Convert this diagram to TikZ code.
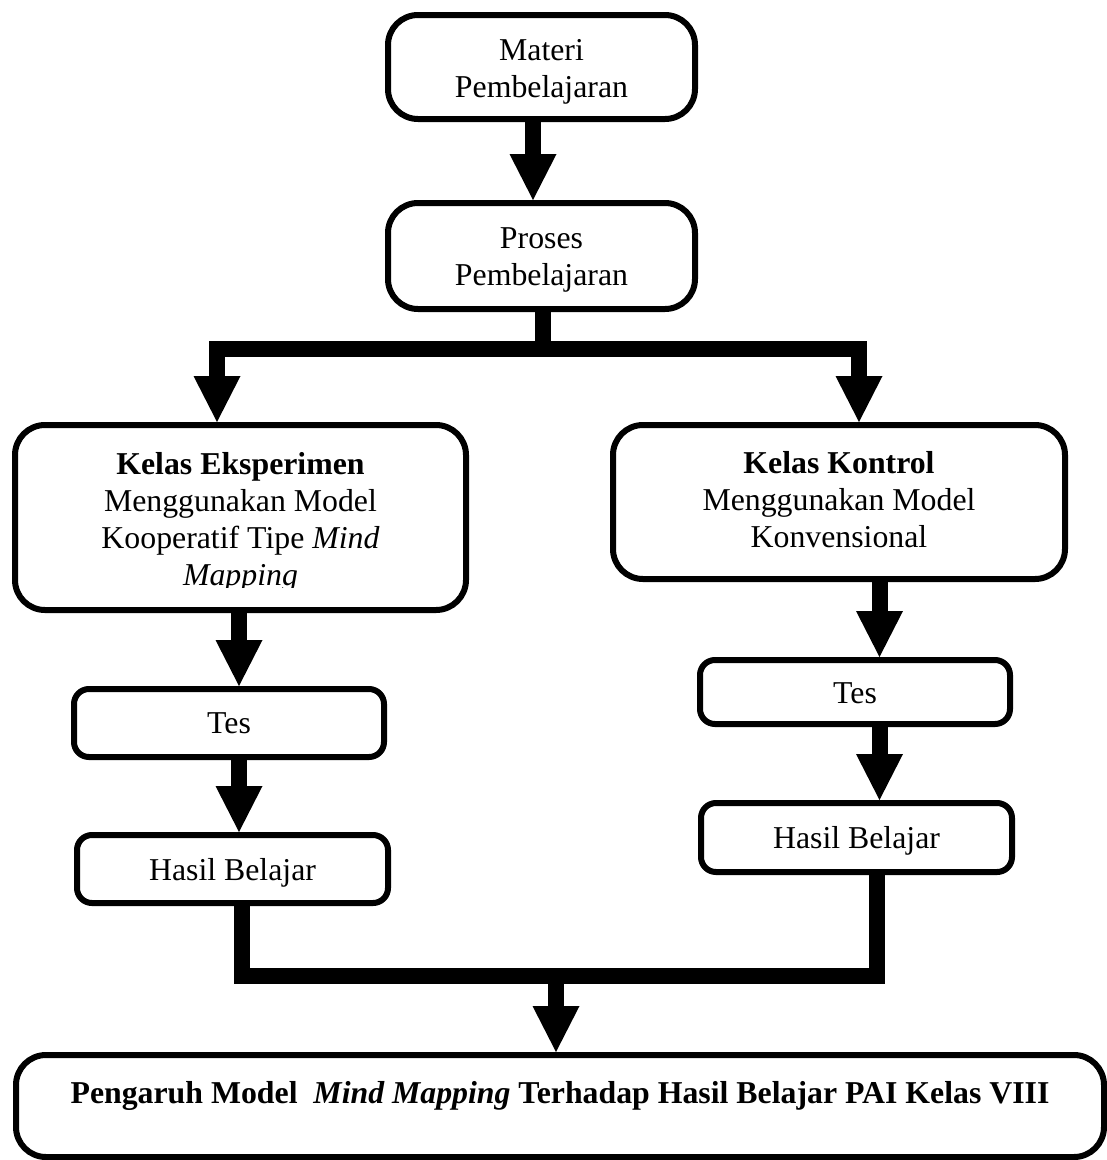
\documentclass[tikz,border=0pt]{standalone}
\usepackage{fontspec}
\setmainfont{Liberation Serif}
\usetikzlibrary{arrows.meta}
\begin{document}
\begin{tikzpicture}[x=1pt,y=-1pt,
  every node/.style={font=\fontsize{31.8}{36.7}\selectfont},
  box/.style={draw, line width=6pt, rounded corners=30pt, align=center, inner sep=0pt},
  sbox/.style={box, rounded corners=15pt},
  conn/.style={line width=16pt},
  arr/.style={conn, -{Triangle[width=47pt,length=46pt,line width=0pt]}}]
\useasboundingbox (0,0) rectangle (1107,1160);

\node[box, minimum width=307pt, minimum height=104pt, text height=60pt, text depth=0pt] (materi) at (541.5,67) {Materi\\Pembelajaran};
\node[box, minimum width=307pt, minimum height=106pt, text height=58pt, text depth=0pt] (proses) at (541.5,256) {Proses\\Pembelajaran};
\node[box, minimum width=451pt, minimum height=185pt] (ke) at (240.5,517.5) {};
\begin{scope}
  \clip (0,400) rectangle (1107,587);
  \node[align=center, anchor=base, inner sep=0pt] (ketext) at (240.5,585) {\textbf{Kelas Eksperimen}\\Menggunakan Model\\Kooperatif Tipe \textit{Mind}\\\textit{Mapping}};
\end{scope}
\node[box, minimum width=452pt, minimum height=154pt, text height=90pt, text depth=0pt] (kk) at (839,502) {\textbf{Kelas Kontrol}\\Menggunakan Model\\Konvensional};
\node[sbox, minimum width=310pt, minimum height=68pt, text height=20pt, text depth=0pt] (tesl) at (229,723) {Tes};
\node[sbox, minimum width=311pt, minimum height=68pt, text height=22pt, text depth=0pt] (hasill) at (232.5,869) {Hasil Belajar};
\node[sbox, minimum width=310pt, minimum height=64pt, text height=22pt, text depth=0pt] (tesr) at (855,692) {Tes};
\node[sbox, minimum width=311pt, minimum height=69pt, text height=21pt, text depth=0pt] (hasilr) at (856.5,837.5) {Hasil Belajar};
\node[box, minimum width=1088pt, minimum height=102pt, text height=0pt, text depth=6pt] (hasil) at (560,1106) {\textbf{Pengaruh Model~ \textit{Mind Mapping} Terhadap Hasil Belajar PAI Kelas VIII}};

\coordinate (c1) at (533,0);
\coordinate (c2) at (543,0);
\coordinate (c3) at (217,0);
\coordinate (c4) at (859,0);
\coordinate (c5) at (239,0);
\coordinate (c6) at (879.5,0);
\coordinate (c7) at (242,0);
\coordinate (c8) at (877,0);
\coordinate (c9) at (556,0);
\coordinate (r1) at (0,348.5);
\coordinate (r2) at (0,976);
\coordinate (split) at (c2 |- r1);
\coordinate (merge) at (c9 |- r2);

\draw[arr] (materi.south -| c1) -- (proses.north -| c1);
\draw[arr] (proses.south -| c2) -- (split) -| (ke.north -| c3);
\draw[arr] (split) -| (kk.north -| c4);
\draw[arr] (ke.south -| c5) -- (tesl.north -| c5);
\draw[arr] (tesl.south -| c5) -- (hasill.north -| c5);
\draw[arr] (kk.south -| c6) -- (tesr.north -| c6);
\draw[arr] (tesr.south -| c6) -- (hasilr.north -| c6);
\draw[conn] (hasill.south -| c7) |- (c8 |- r2) -- (hasilr.south -| c8);
\draw[arr] (merge) -- (hasil.north -| c9);
\end{tikzpicture}
\end{document}
